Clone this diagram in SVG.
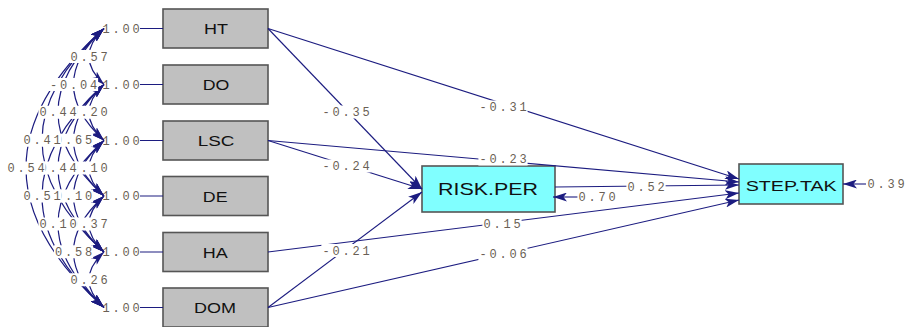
<svg xmlns="http://www.w3.org/2000/svg" width="908" height="327" viewBox="0 0 908 327">
<style>
.obs{fill:#c0c0c0;stroke:#555;stroke-width:1.6}
.lat{fill:#80ffff;stroke:#555;stroke-width:1.6}
.nl{font-family:"Liberation Sans",Arial,sans-serif;font-size:14px;fill:#111}
.ln{fill:none;stroke:#1c1c80;stroke-width:1.1}
.arr{marker-end:url(#ah)}
.cov{fill:none;stroke:#1c1c80;stroke-width:1.2;marker-start:url(#ah);marker-end:url(#ah)}
.lb{font-family:"Liberation Mono","Courier New",monospace;font-size:12px;letter-spacing:2.8px;fill:#6a5f55}
.bg{fill:#fff}
</style>
<defs>
<marker id="ah" viewBox="0 0 14 9" refX="14" refY="4.5" markerWidth="14" markerHeight="9" markerUnits="userSpaceOnUse" orient="auto-start-reverse">
<path d="M0,0 L14,4.5 L0,9 L3.5,4.5 z" fill="#1c1c80"/>
</marker>
</defs>
<rect width="908" height="327" fill="#fff"/>

<g id="HT"><rect class="obs" x="163" y="9" width="105" height="39"/><text class="nl" x="204" y="34.3" textLength="24" lengthAdjust="spacingAndGlyphs">HT</text></g>
<g id="DO"><rect class="obs" x="163" y="65" width="105" height="39"/><text class="nl" x="202.7" y="90.3" textLength="26.6" lengthAdjust="spacingAndGlyphs">DO</text></g>
<g id="LSC"><rect class="obs" x="163" y="121" width="105" height="39"/><text class="nl" x="197.7" y="146.3" textLength="36.6" lengthAdjust="spacingAndGlyphs">LSC</text></g>
<g id="DE"><rect class="obs" x="163" y="176.5" width="105" height="39"/><text class="nl" x="202.8" y="201.8" textLength="24.7" lengthAdjust="spacingAndGlyphs">DE</text></g>
<g id="HA"><rect class="obs" x="163" y="232.5" width="105" height="39"/><text class="nl" x="202.8" y="257.8" textLength="25" lengthAdjust="spacingAndGlyphs">HA</text></g>
<g id="DOM"><rect class="obs" x="163" y="288" width="105" height="39"/><text class="nl" x="194" y="313.3" textLength="42" lengthAdjust="spacingAndGlyphs">DOM</text></g>
<g id="RISK.PER"><rect class="lat" x="422" y="166" width="133" height="46"/><text class="nl" style="font-size:16.5px" x="438" y="195" textLength="100" lengthAdjust="spacingAndGlyphs">RISK.PER</text></g>
<g id="STEP.TAK"><rect class="lat" x="739" y="164" width="104" height="40"/><text class="nl" x="745.7" y="190.7" textLength="91" lengthAdjust="spacingAndGlyphs">STEP.TAK</text></g>

<g id="variance-labels" class="lb">
<text x="102.4" y="32.5">1.00</text>
<text x="102.4" y="88.5">1.00</text>
<text x="102.4" y="144.5">1.00</text>
<text x="102.4" y="200">1.00</text>
<text x="102.4" y="256">1.00</text>
<text x="102.4" y="311.5">1.00</text>
</g>

<g id="connectors">
<path class="ln" d="M140,28.5H163M140,84.5H163M140,140.5H163M140,196H163M140,252H163M140,307.5H163"/>
<path class="ln arr" d="M268,28.5L422,189"/>
<path class="ln arr" d="M268,140.5L422,189"/>
<path class="ln arr" d="M268,307.5L422,192"/>
<path class="ln arr" d="M268,28.5L739,179"/>
<path class="ln arr" d="M268,140.5L739,182"/>
<path class="ln arr" d="M555,187L739,185"/>
<path class="ln arr" d="M268,252L739,193"/>
<path class="ln arr" d="M268,307.5L739,200"/>
<path class="ln arr" d="M578,197L553,197"/>
<path class="ln arr" d="M866,184L843,184"/>
<path class="cov" d="M104,28.5 Q74,56.5 104,84.5"/>
<path class="cov" d="M104,28.5 Q43,84.5 104,140.5"/>
<path class="cov" d="M104,28.5 Q12,112.25 104,196"/>
<path class="cov" d="M104,28.5 Q-20,140.25 104,252"/>
<path class="cov" d="M104,28.5 Q-52,168 104,307.5"/>
<path class="cov" d="M104,84.5 Q74,112.5 104,140.5"/>
<path class="cov" d="M104,84.5 Q43,140.25 104,196"/>
<path class="cov" d="M104,84.5 Q12,168.25 104,252"/>
<path class="cov" d="M104,84.5 Q-20,196 104,307.5"/>
<path class="cov" d="M104,140.5 Q74,168.25 104,196"/>
<path class="cov" d="M104,140.5 Q43,196.25 104,252"/>
<path class="cov" d="M104,140.5 Q12,224 104,307.5"/>
<path class="cov" d="M104,196 Q74,224 104,252"/>
<path class="cov" d="M104,196 Q43,251.75 104,307.5"/>
<path class="cov" d="M104,252 Q74,279.75 104,307.5"/>
</g>

<g id="path-labels" class="lb">
<rect class="bg" x="321.4" y="105.5" width="49.2" height="13"/><text x="322.4" y="116">-0.35</text>
<rect class="bg" x="321.4" y="159.5" width="49.2" height="13"/><text x="322.4" y="170">-0.24</text>
<rect class="bg" x="321.4" y="244" width="49.2" height="13"/><text x="322.4" y="254.5">-0.21</text>
<rect class="bg" x="478.4" y="100.5" width="49.2" height="13"/><text x="479.4" y="111">-0.31</text>
<rect class="bg" x="478.4" y="152.5" width="49.2" height="13"/><text x="479.4" y="163">-0.23</text>
<rect class="bg" x="626.4" y="180.5" width="39.2" height="13"/><text x="627.4" y="191">0.52</text>
<rect class="bg" x="482.4" y="217.5" width="39.2" height="13"/><text x="483.4" y="228">0.15</text>
<rect class="bg" x="478.4" y="247.5" width="49.2" height="13"/><text x="479.4" y="258">-0.06</text>
<rect class="bg" x="577.4" y="190" width="39.2" height="13"/><text x="578.4" y="200.5">0.70</text>
<rect class="bg" x="866.4" y="177.5" width="39.2" height="13"/><text x="867.4" y="188">0.39</text>
</g>

<g id="covariance-labels" class="lb">
<rect class="bg" x="69.4" y="50" width="39.2" height="13"/><text x="70.4" y="60.5">0.57</text>
<rect class="bg" x="69.4" y="105.75" width="39.2" height="13"/><text x="70.4" y="116.25">0.20</text>
<rect class="bg" x="69.4" y="161.5" width="39.2" height="13"/><text x="70.4" y="172">0.10</text>
<rect class="bg" x="69.4" y="217.5" width="39.2" height="13"/><text x="70.4" y="228">0.37</text>
<rect class="bg" x="69.4" y="273.25" width="39.2" height="13"/><text x="70.4" y="283.75">0.26</text>
<rect class="bg" x="48.9" y="78" width="49.2" height="13"/><text x="49.9" y="88.5">-0.04</text>
<rect class="bg" x="53.9" y="133.75" width="39.2" height="13"/><text x="54.9" y="144.25">0.65</text>
<rect class="bg" x="53.9" y="189.5" width="39.2" height="13"/><text x="54.9" y="200">0.10</text>
<rect class="bg" x="53.9" y="245.25" width="39.2" height="13"/><text x="54.9" y="255.75">0.58</text>
<rect class="bg" x="38.4" y="105.75" width="39.2" height="13"/><text x="39.4" y="116.25">0.44</text>
<rect class="bg" x="38.4" y="161.5" width="39.2" height="13"/><text x="39.4" y="172">0.44</text>
<rect class="bg" x="38.4" y="217.5" width="39.2" height="13"/><text x="39.4" y="228">0.10</text>
<rect class="bg" x="22.4" y="133.75" width="39.2" height="13"/><text x="23.4" y="144.25">0.41</text>
<rect class="bg" x="22.4" y="189.5" width="39.2" height="13"/><text x="23.4" y="200">0.51</text>
<rect class="bg" x="6.4" y="161.5" width="39.2" height="13"/><text x="7.4" y="172">0.54</text>
</g>
</svg>
